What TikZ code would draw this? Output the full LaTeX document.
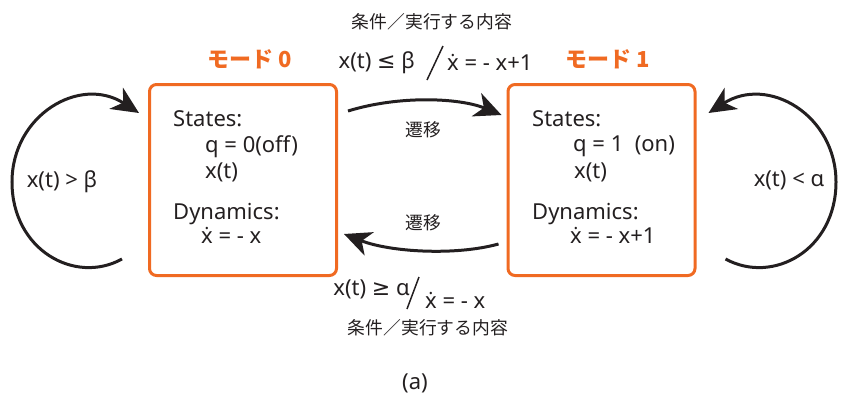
\documentclass[tikz,border=0pt]{standalone}
\usepackage{fontspec}
\setmainfont{Noto Sans}
\newfontfamily\jpfont{Noto Sans CJK JP}
\newfontfamily\symfont{DejaVu Sans}
\usetikzlibrary{arrows.meta}
\definecolor{modeorange}{HTML}{F06A22}
\definecolor{ink}{HTML}{231F20}

\tikzset{
	mode/.style={draw=modeorange, line width=3pt, rounded corners=7pt, minimum width=187pt, minimum height=191pt},
	modetitle/.style={anchor=base west, text=modeorange, font=\jpfont\bfseries\fontsize{22}{26}\selectfont},
	body/.style={anchor=base west, text=ink, inner sep=0pt, font=\fontsize{22}{26}\selectfont},
	jp/.style={text=ink, inner sep=0pt, font=\jpfont\fontsize{17.8}{21}\selectfont},
	trans/.style={draw=ink, line width=3pt, -{Stealth[length=27pt,width=25pt,inset=8pt]}},
	bar/.style={draw=ink, line width=1.5pt},
}

\begin{document}
\begin{tikzpicture}[x=1pt,y=-1pt]
			\useasboundingbox (0,0) rectangle (841,405);
			% the two modes
			\node[mode] (m0) at (243,180) {};
			\node[mode] (m1) at (601.5,180) {};
			\node[modetitle] (t0) at (204,67) {モード 0};
			\node[modetitle] (t1) at (562,67) {モード 1};
			% contents of mode 0
			\node[body] (s0) at (173,126) {States:};
			\node[body] (q0) at (205,152) {q = 0(off)};
			\node[body] (x0) at (205,178) {x(t)};
			\node[body] (d0) at (173,219) {Dynamics:};
			\node[body] (f0) at (201,243) {\.{x} = - x};
			% contents of mode 1
			\node[body] (s1) at (532,126) {States:};
			\node[body] (q1) at (573,151) {q = 1 \ (on)};
			\node[body] (x1) at (574,178) {x(t)};
			\node[body] (d1) at (532,219) {Dynamics:};
			\node[body] (f1) at (570,243) {\.{x} = - x+1};
			% transitions
			\draw[trans] ([shift={(10,28)}]m0.north east) .. controls (400,95) and (460,98) .. ([shift={(-5,32)}]m1.north west);
			\draw[trans] ([shift={(-8,-33)}]m1.south west) .. controls (455,256) and (390,252) .. ([shift={(6,-43)}]m0.south east);
			\draw[trans] ([shift={(-26,-18)}]m0.south west) .. controls (75,285) and (12,250) .. (12,182)
				.. controls (12,115) and (80,75) .. ([shift={(-9,30)}]m0.north west);
			\draw[trans] ([shift={(29,-18)}]m1.south east) .. controls (773,285) and (836,250) .. (836,182)
				.. controls (836,115) and (768,75) .. ([shift={(12,30)}]m1.north east);
			% labels
			\node[jp] (c0) at (432,22) {条件／実行する内容};
			\node[body, anchor=base east] (g0) at (415,68) {x(t) {\symfont≤} β};
			\draw[bar] (443,46) -- (427,80);
			\node[body] (a0) at (447,70) {\.{x} = - x+1};
			\node[jp] (e0) at (423,130) {遷移};
			\node[jp] (e1) at (423,223) {遷移};
			\node[body, anchor=base east] (g1) at (410,295) {x(t) {\symfont≥} α};
			\draw[bar] (419,277) -- (407,309);
			\node[body] (a1) at (425,308) {\.{x} = - x};
			\node[jp] (c1) at (428,328) {条件／実行する内容};
			\node[body, anchor=center] (l0) at (62,182) {x(t) > β};
			\node[body, anchor=center] (l1) at (789,180) {x(t) < α};
			\node[body, anchor=center] (cap) at (415,383) {(a)};
		\end{tikzpicture}
\end{document}
